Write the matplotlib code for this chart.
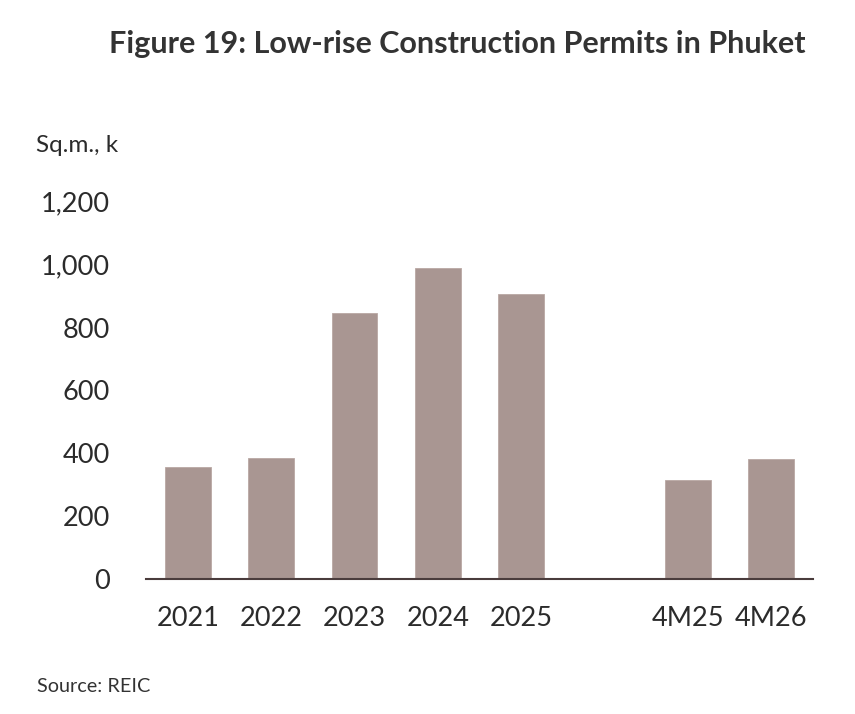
import matplotlib
matplotlib.use("Agg")
import matplotlib.pyplot as plt

categories = ["2021", "2022", "2023", "2024", "2025", "", "4M25", "4M26"]
values = [358, 386, 845, 990, 907, None, 315, 382]
yticks = [0, 200, 400, 600, 800, 1000, 1200]
ytick_labels = ["0", "200", "400", "600", "800", "1,000", "1,200"]

plt.rcParams['font.family'] = ['Lato', 'DejaVu Sans']
text_color = "#2b2b2b"
bar_color = "#a99692"

fig = plt.figure(figsize=(8.55, 7.14), dpi=100)
ax = fig.add_axes([146/855, 1-579.3/714, (813-146)/855, (579.3-201.7)/714])

xs = list(range(len(categories)))
for x, v in zip(xs, values):
    if v is not None:
        ax.bar(x, v, width=0.55, color=bar_color, edgecolor="#b9a8a4", linewidth=0.6, zorder=2)

ax.set_xlim(-0.5, len(categories) - 0.5)
ax.set_ylim(0, 1200)
ax.set_yticks(yticks)
ax.set_yticklabels(ytick_labels)
ax.set_xticks(xs)
ax.set_xticklabels(categories)
ax.tick_params(axis='y', length=0, pad=26, labelsize=19.5, labelcolor=text_color)
ax.tick_params(axis='x', length=0, pad=19, labelsize=19.5, labelcolor=text_color)
for s in ["top", "right", "left"]:
    ax.spines[s].set_visible(False)
ax.spines["bottom"].set_color("#4a3c3c")
ax.spines["bottom"].set_linewidth(1.5)
ax.spines["bottom"].set_zorder(3)

fig.text(805/855, 1-44/714, "Figure 19: Low-rise Construction Permits in Phuket",
         ha="right", va="center", fontsize=22, fontweight="bold", color="#333333")
fig.text(36/855, 1-145/714, "Sq.m., k", ha="left", va="center", fontsize=17.5, color=text_color)
fig.text(37/855, 1-686/714, "Source: REIC", ha="left", va="center", fontsize=14.3, color="#333333")

fig.savefig("out.png", dpi=100)
